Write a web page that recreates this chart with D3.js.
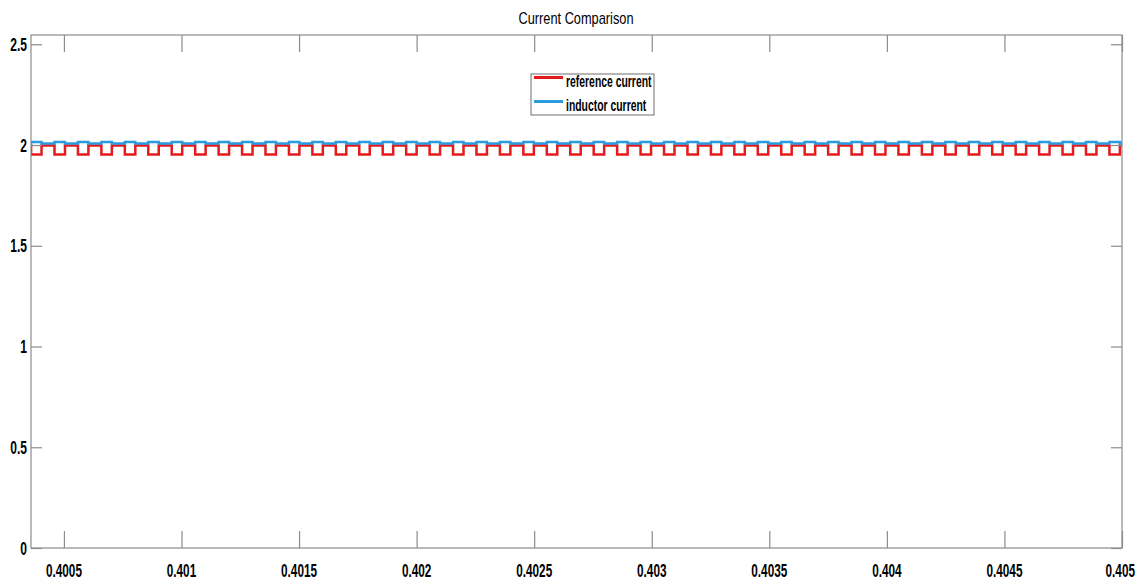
<!DOCTYPE html>
<html>
<head>
<meta charset="utf-8">
<script src="https://cdn.jsdelivr.net/npm/d3@7"></script>
<style>
  body { margin: 0; background: #fff; }
  text { font-family: "Liberation Sans", Arial, sans-serif; }
</style>
</head>
<body>
<div id="canvas"></div>
<script>
// data
const xTicks = [0.4005, 0.401, 0.4015, 0.402, 0.4025, 0.403, 0.4035, 0.404, 0.4045, 0.405];
const xTickLabels = ["0.4005", "0.401", "0.4015", "0.402", "0.4025", "0.403", "0.4035", "0.404", "0.4045", "0.405"];
const yTicks = [0, 0.5, 1, 1.5, 2, 2.5];
const yTickLabels = ["0", "0.5", "1", "1.5", "2", "2.5"];

// switching instants (start of each pulse), seconds
const pulseStart = [
  0.4003603, 0.4004600, 0.4005597, 0.4006594, 0.4007591, 0.4008588, 0.4009585, 0.4010582,
  0.4011579, 0.4012576, 0.4013573, 0.4014570, 0.4015567, 0.4016564, 0.4017561, 0.4018558,
  0.4019555, 0.4020552, 0.4021549, 0.4022546, 0.4023543, 0.4024540, 0.4025537, 0.4026534,
  0.4027531, 0.4028528, 0.4029525, 0.4030522, 0.4031519, 0.4032516, 0.4033513, 0.4034510,
  0.4035507, 0.4036504, 0.4037501, 0.4038498, 0.4039495, 0.4040492, 0.4041489, 0.4042486,
  0.4043483, 0.4044480, 0.4045477, 0.4046474, 0.4047471, 0.4048468, 0.4049465
];
const pulseWidth = 0.0000445;

const seriesNames = ["reference current", "inductor current"];
const baseLevel = [1.998, 2.008];   // level between pulses
const pulseLevel = [1.953, 2.015];  // level during pulse
const seriesColors = ["#e41a1c", "#2b9be0"];

const width = 1147, height = 583;
const plotLeft = 31, plotRight = 1122, plotTop = 35, plotBottom = 548;

const svg = d3.select("#canvas")
    .append("svg")
    .attr("width", width)
    .attr("height", height);

const x = d3.scaleLinear().domain([0.40036, 0.405]).range([plotLeft, plotRight]);
const y = d3.scaleLinear().domain([0, 2.546]).range([plotBottom, plotTop]);

// text squeezed horizontally, the reference uses a tall narrow face
function squeezed(parent, tx, ty, f) {
  return parent.append("text")
      .attr("transform", `translate(${tx},${ty}) scale(${f},1)`);
}

svg.append("clipPath").attr("id", "clip")
  .append("rect")
    .attr("x", plotLeft).attr("y", plotTop)
    .attr("width", plotRight - plotLeft).attr("height", plotBottom - plotTop);

// build step waveform for each series
function wave(i) {
  const pts = [[x.domain()[0] - 0.0001, baseLevel[i]]];
  pulseStart.forEach(s => {
    pts.push([s, baseLevel[i]], [s, pulseLevel[i]], [s + pulseWidth, pulseLevel[i]], [s + pulseWidth, baseLevel[i]]);
  });
  pts.push([x.domain()[1] + 0.0001, baseLevel[i]]);
  return pts;
}

const line = d3.line()
    .x(d => x(d[0]))
    .y(d => y(d[1]));

seriesNames.forEach((name, i) => {
  svg.append("path")
      .datum(wave(i))
      .attr("clip-path", "url(#clip)")
      .attr("fill", "none")
      .attr("stroke", seriesColors[i])
      .attr("stroke-width", 2.5)
      .attr("d", line);
});

// axes box with inward ticks
const axisColor = "#8c8c8c";
const gBox = svg.append("g");

gBox.append("rect")
    .attr("x", plotLeft).attr("y", plotTop)
    .attr("width", plotRight - plotLeft).attr("height", plotBottom - plotTop)
    .attr("fill", "none")
    .attr("stroke", axisColor)
    .attr("stroke-width", 1.2);

gBox.append("g").attr("transform", `translate(0,${plotBottom})`)
    .call(d3.axisBottom(x).tickValues(xTicks).tickSize(-17).tickFormat(""));
gBox.append("g").attr("transform", `translate(0,${plotTop})`)
    .call(d3.axisTop(x).tickValues(xTicks).tickSize(-17).tickFormat(""));
gBox.append("g").attr("transform", `translate(${plotLeft},0)`)
    .call(d3.axisLeft(y).tickValues(yTicks).tickSize(-11).tickFormat(""));
gBox.append("g").attr("transform", `translate(${plotRight},0)`)
    .call(d3.axisRight(y).tickValues(yTicks).tickSize(-11).tickFormat(""));

gBox.selectAll(".domain").remove();
gBox.selectAll(".tick line").attr("stroke", axisColor).attr("stroke-width", 1.2);

// tick labels
const xLab = svg.append("g");
xTicks.forEach((t, i) => {
  const last = i === xTicks.length - 1;
  squeezed(xLab, last ? 1135 : x(t), 577, 0.62)
      .attr("text-anchor", last ? "end" : "middle")
      .attr("font-size", 19)
      .attr("font-weight", "bold")
      .text(xTickLabels[i]);
});

const yLab = svg.append("g");
yTicks.forEach((t, i) => {
  squeezed(yLab, 27, y(t) + 6.5, 0.67)
      .attr("text-anchor", "end")
      .attr("font-size", 18)
      .attr("font-weight", "bold")
      .text(yTickLabels[i]);
});

// title
squeezed(svg, 576, 24, 0.8)
    .attr("text-anchor", "middle")
    .attr("font-size", 16)
    .text("Current Comparison");

// legend
const legend = svg.append("g");
legend.append("rect")
    .attr("x", 531).attr("y", 74)
    .attr("width", 123).attr("height", 41)
    .attr("fill", "#fff")
    .attr("stroke", "#6e6e6e")
    .attr("stroke-width", 1);

seriesNames.forEach((name, i) => {
  const ly = 77.5 + i * 24;
  legend.append("line")
      .attr("x1", 534).attr("x2", 563)
      .attr("y1", ly).attr("y2", ly)
      .attr("stroke", seriesColors[i])
      .attr("stroke-width", 3);
  squeezed(legend, 566, ly + 9, 0.65)
      .attr("font-size", 16)
      .attr("font-weight", "bold")
      .text(name);
});
</script>
</body>
</html>
